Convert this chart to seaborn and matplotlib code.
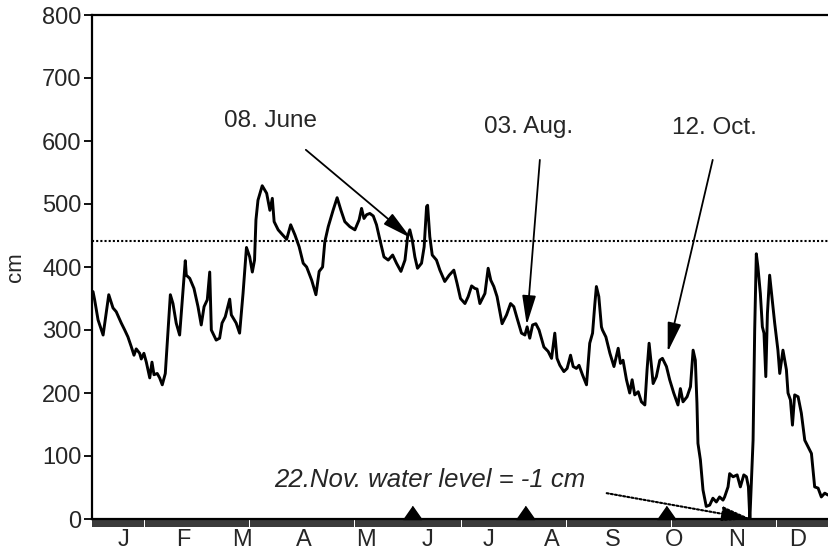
import numpy as np
import pandas as pd
import matplotlib
matplotlib.use("Agg")
import matplotlib.pyplot as plt
import seaborn as sns

# ---- data (day of year, water level in cm) ----
days = [1.0, 1.8, 3.5, 6.0, 8.8, 10.9, 12.5, 15.0, 16.7, 18.3, 20.0, 21.3, 22.4, 24.1, 24.9,
        26.2, 27.4, 29.1, 30.2, 31.2, 32.8, 34.0, 35.3, 36.8, 38.1, 39.3, 40.6, 42.2, 43.9,
        45.2, 46.7, 47.2, 48.9, 51.0, 53.0, 54.6, 56.0, 57.6, 58.8, 59.6, 62.0, 63.7, 64.9,
        66.5, 68.7, 69.5, 71.9, 73.6, 75.3, 77.0, 78.6, 79.9, 81.0, 81.7, 82.7, 84.8, 87.0,
        88.6, 89.8, 90.7, 92.7, 94.9, 96.9, 98.9, 101.0, 103.1, 105.1, 106.8, 109.3, 111.4,
        113.0, 114.7, 115.8, 117.5, 119.9, 121.9, 123.8, 125.7, 128.2, 130.7, 132.8, 134.0,
        135.2, 136.5, 138.1, 139.8, 141.4, 143.1, 145.1, 147.2, 149.4, 151.3, 153.5, 155.5,
        156.8, 157.9, 159.1, 160.4, 161.7, 163.7, 165.0, 166.2, 166.7, 167.8, 169.0, 171.1,
        172.8, 175.2, 177.4, 179.7, 181.3, 183.0, 185.2, 186.8, 188.5, 190.1, 191.2, 192.6,
        195.1, 196.7, 198.0, 199.5, 201.1, 202.5, 203.6, 205.8, 207.8, 209.4, 211.0, 213.2,
        214.9, 216.0, 217.3, 218.7, 220.3, 221.9, 224.3, 226.4, 228.1, 229.7, 230.8, 232.2,
        234.2, 235.8, 237.5, 238.8, 240.4, 241.7, 243.4, 245.4, 247.0, 248.4, 249.5, 250.3,
        251.5, 252.8, 253.3, 255.0, 257.0, 259.0, 261.1, 262.2, 263.5, 265.2, 266.8, 268.0,
        269.3, 271.0, 272.6, 274.3, 275.4, 276.4, 277.6, 278.4, 280.0, 281.7, 283.0, 285.0,
        286.6, 288.6, 290.7, 291.9, 293.2, 295.2, 296.9, 298.2, 299.3, 300.1, 300.6, 301.8,
        303.1, 304.7, 306.4, 308.0, 309.7, 311.3, 313.0, 313.8, 315.5, 316.3, 318.0, 320.0,
        321.6, 323.3, 324.6, 325.6, 326.3, 327.9, 328.7, 329.5, 330.3, 331.5, 332.5, 333.3,
        334.2, 335.0, 336.1, 337.4, 338.6, 340.2, 341.1, 342.7, 344.4, 345.2, 346.4, 347.4,
        348.5, 350.2, 351.8, 353.5, 355.1, 356.8, 358.4, 360.1, 361.7, 363.4, 365.0]
levels = [361, 348, 316, 292, 356, 335, 329, 311, 300, 289, 273, 260, 270, 263, 254,
          263, 249, 224, 249, 229, 231, 224, 213, 231, 295, 356, 342, 311, 292,
          347, 410, 387, 382, 366, 337, 308, 337, 348, 392, 300, 284, 287, 311,
          321, 349, 324, 311, 295, 358, 431, 416, 392, 411, 475, 506, 529, 517,
          490, 509, 472, 459, 451, 444, 467, 451, 432, 406, 400, 379, 356,
          393, 400, 440, 464, 490, 510, 490, 472, 464, 459, 475, 493,
          477, 483, 485, 481, 467, 443, 416, 411, 419, 406, 393, 411,
          448, 459, 443, 416, 398, 406, 432, 496, 498, 448, 419, 411,
          395, 377, 387, 395, 374, 350, 342, 353, 370, 366, 365, 342,
          358, 398, 379, 369, 353, 329, 310, 324, 342, 337, 319, 295,
          292, 305, 287, 308, 310, 300, 273, 266, 255, 295, 255, 244,
          234, 239, 260, 242, 239, 244, 229, 213, 279, 295, 340, 369,
          353, 305, 300, 289, 263, 242, 271, 247, 252, 221, 200, 221,
          197, 202, 186, 181, 237, 279, 242, 215, 226, 252, 255, 242,
          221, 200, 181, 207, 186, 194, 210, 268, 252, 184, 120, 94,
          46, 20, 22, 33, 27, 35, 30, 35, 51, 72, 67, 70,
          51, 70, 67, 51, -1, 125, 300, 421, 400, 358, 305, 295,
          226, 326, 387, 348, 311, 268, 231, 268, 237, 200, 189, 149,
          197, 194, 168, 125, 115, 104, 51, 49, 35, 41, 38]

month_labels = ["J", "F", "M", "A", "M", "J", "J", "A", "S", "O", "N", "D"]
month_lengths = [31, 28, 31, 30, 31, 30, 31, 31, 30, 31, 30, 31]
y_ticks = [0, 100, 200, 300, 400, 500, 600, 700, 800]
reference_level = 441
marker_days = [159, 215, 285]
annotations = [
    ("08. June", (88.9, 632), (106.4, 586), (158.4, 446)),
    ("03. Aug.", (216.8, 622), (222.3, 570), (215.8, 308)),
    ("12. Oct.", (309.0, 621), (307.9, 570), (285.6, 265)),
]
nov_text = "22.Nov. water level = -1 cm"
nov_text_pos = (167.8, 62)
nov_arrow = ((255.4, 41), (327.0, 0))

# ---- plotting ----
sns.set_style("white")
plt.rcParams["font.family"] = ["Liberation Sans", "DejaVu Sans"]

fig = plt.figure(figsize=(8.29, 5.53), dpi=100)
ax = fig.add_axes([92 / 829, 1 - 519 / 553, 737 / 829, 504 / 553])

df = pd.DataFrame({"day": days, "level": levels})
sns.lineplot(data=df, x="day", y="level", color="black", lw=2.1, ax=ax,
             estimator=None, sort=False)

ax.axhline(reference_level, color="black", lw=1.5, ls=(0, (1, 1)))

tri = [(-0.7, 0), (0.7, 0), (0, 1.0)]
ax.plot(marker_days, [0] * len(marker_days), ls="none", marker=tri,
        markersize=19, color="black", clip_on=False, zorder=5)

for label, tpos, tail, head in annotations:
    ax.text(tpos[0], tpos[1], label, ha="center", va="center", fontsize=17.5)
    ax.annotate("", xy=head, xytext=tail,
                arrowprops=dict(arrowstyle="-|>,head_length=1.8,head_width=0.42",
                                color="black", lw=1.3, shrinkA=0, shrinkB=0))

ax.text(nov_text_pos[0], nov_text_pos[1], nov_text, ha="center", va="center",
        fontsize=18.5, style="italic")
ax.annotate("", xy=nov_arrow[1], xytext=nov_arrow[0],
            arrowprops=dict(arrowstyle="-|>,head_length=1.8,head_width=0.45",
                            color="black", lw=1.5, ls=(0, (1, 1)),
                            shrinkA=0, shrinkB=0))

ax.set_xlim(0.5, 365.5)
ax.set_ylim(0, 800)
ax.set_yticks(y_ticks)
ax.set_yticklabels([str(v) for v in y_ticks], fontsize=17)

starts = np.cumsum([1] + month_lengths[:-1])
ends = np.cumsum(month_lengths)
centers = (starts + ends) / 2
ax.xaxis.remove_overlapping_locs = False
ax.set_xticks(centers)
ax.set_xticklabels(month_labels, fontsize=17)
ax.set_xticks(np.arange(1, 366), minor=True)
ax.tick_params(axis="x", which="major", length=0, pad=7.5)
ax.tick_params(axis="x", which="minor", length=5.5, width=1.1, direction="out",
               color="black", bottom=True)
ax.tick_params(axis="y", which="major", length=6, width=1.3, direction="out",
               color="black", left=True, pad=1.5)

ax.set_xlabel("")
ax.set_ylabel("cm", fontsize=16)
ax.yaxis.set_label_coords(-0.09, 0.5)

for side in ["left", "top", "bottom"]:
    ax.spines[side].set_color("black")
    ax.spines[side].set_linewidth(1.6)
ax.spines["right"].set_visible(False)

fig.savefig("out.png", dpi=100)
